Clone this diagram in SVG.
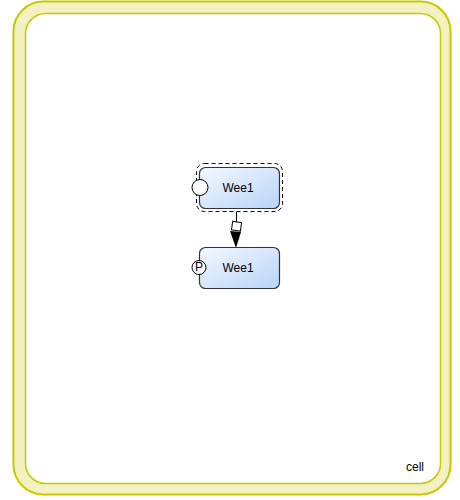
<svg xmlns="http://www.w3.org/2000/svg" width="460" height="500" viewBox="0 0 460 500">
<defs>
<linearGradient id="g" x1="0" y1="0" x2="1" y2="1">
<stop offset="0" stop-color="#f4f8ff"/>
<stop offset="1" stop-color="#b8d4f8"/>
</linearGradient>
<style>
.box{fill:url(#g);stroke:#333;stroke-width:1.2}
.lbl{font-family:"Liberation Sans",Arial,sans-serif;font-size:12px;fill:#000;text-anchor:middle}
.port{fill:#fff;stroke:#000;stroke-width:1}
</style>
</defs>
<g id="cell">
<rect x="13.5" y="1.5" width="437" height="493" rx="30" fill="#f3f1c2" stroke="#c8c800" stroke-width="2"/>
<rect x="25.5" y="13.5" width="415" height="470" rx="20" fill="#fff" stroke="#c8c800" stroke-width="1.5"/>
<text x="415" y="471" class="lbl" font-size="11">cell</text>
</g>
<g id="connectors">
<line x1="236.5" y1="212" x2="236.5" y2="222" stroke="#000" stroke-width="1"/>
<rect x="232" y="222" width="9" height="8.5" fill="#fff" stroke="#000" stroke-width="1" transform="rotate(8 236.5 226.5)"/>
<path d="M230 231 L241 232 L236 248 Z" fill="#000"/>
</g>
<g id="node1">
<rect x="196.5" y="163.5" width="86" height="48" rx="8" fill="none" stroke="#000" stroke-dasharray="4,3"/>
<rect x="199.5" y="167.5" width="80" height="41" rx="6" class="box"/>
<circle cx="200" cy="187.5" r="8" class="port"/>
<text x="238" y="192" class="lbl">Wee1</text>
</g>
<g id="node2">
<rect x="199.5" y="247.5" width="80" height="41" rx="6" class="box"/>
<circle cx="199" cy="267.5" r="7" class="port"/>
<text x="199" y="270.5" class="lbl" font-size="9">P</text>
<text x="238" y="272" class="lbl">Wee1</text>
</g>
</svg>
